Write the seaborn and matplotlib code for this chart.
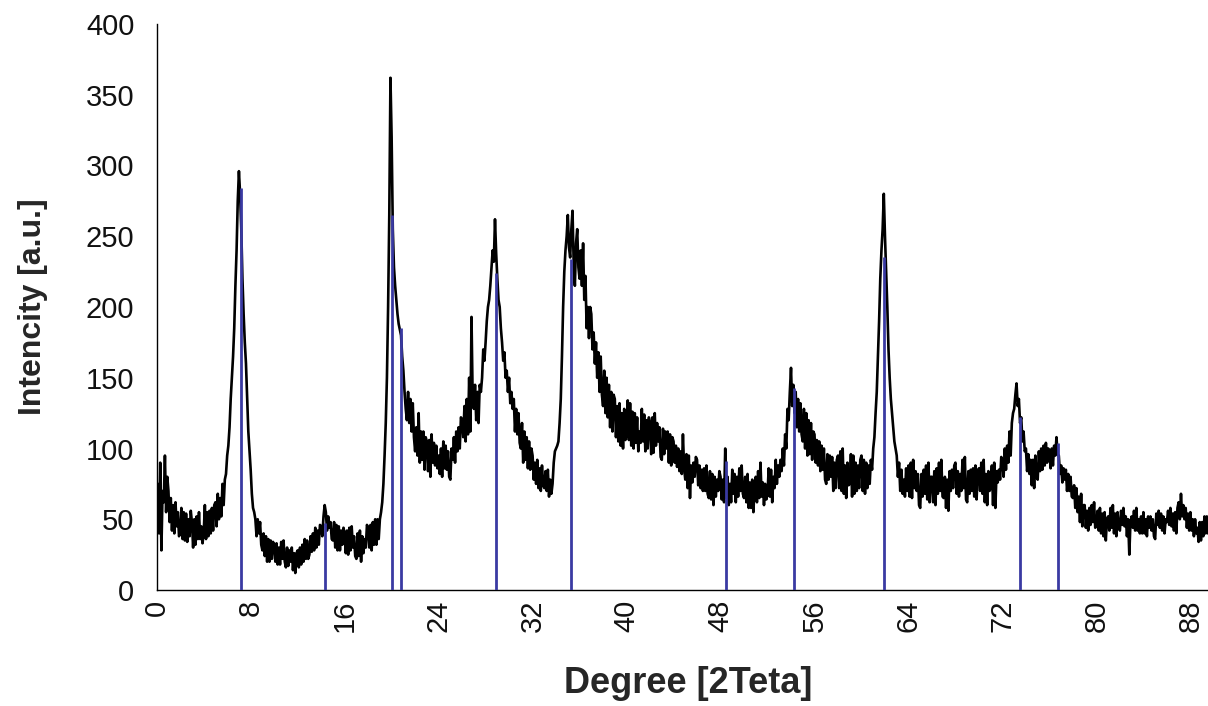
import numpy as np
import pandas as pd
import matplotlib
matplotlib.use("Agg")
import matplotlib.pyplot as plt
import seaborn as sns

# ---------------- data ----------------
two_theta_start = 0.0
two_theta_step = 0.1

intensity = [
    60, 75, 40, 90, 28, 70, 62, 95, 55, 80,        # 0
    70, 48, 65, 42, 60, 40, 62, 45, 55, 38,        # 1
    40, 58, 36, 55, 35, 54, 34, 50, 38, 56,        # 2
    48, 30, 50, 32, 52, 36, 55, 36, 45, 33,        # 3
    40, 60, 36, 55, 38, 56, 40, 58, 42, 60,        # 4
    62, 45, 68, 50, 65, 52, 75, 60, 78, 82,        # 5
    95, 102, 115, 135, 150, 165, 185, 215, 240, 275,   # 6
    296, 280, 255, 220, 195, 175, 160, 135, 112, 98,   # 7
    85, 68, 58, 55, 50, 38, 50, 40, 48, 32,        # 8
    28, 40, 24, 38, 20, 36, 20, 35, 22, 34,        # 9
    32, 20, 33, 18, 30, 18, 34, 22, 35, 20,        # 10
    16, 30, 17, 28, 20, 30, 14, 26, 12, 26,        # 11
    28, 16, 30, 18, 32, 20, 36, 22, 35, 22,        # 12
    25, 38, 27, 40, 28, 44, 30, 42, 32, 46,        # 13
    45, 38, 52, 60, 55, 42, 52, 44, 48, 36,        # 14
    35, 48, 30, 46, 28, 45, 28, 42, 32, 44,        # 15
    40, 26, 42, 25, 44, 28, 45, 30, 38, 24,        # 16
    22, 40, 24, 42, 20, 38, 26, 36, 30, 46,        # 17
    44, 30, 46, 28, 48, 32, 50, 32, 50, 36,        # 18
    50, 55, 62, 75, 95, 118, 150, 200, 265, 362,   # 19
    320, 255, 228, 215, 205, 195, 188, 184, 180, 165,  # 20
    155, 140, 128, 120, 140, 118, 135, 112, 132, 108,  # 21
    98, 115, 95, 125, 90, 112, 92, 112, 85, 108,   # 22
    105, 84, 106, 80, 110, 90, 104, 88, 102, 86,   # 23
    95, 82, 100, 80, 105, 86, 102, 85, 98, 80,     # 24
    78, 100, 92, 108, 90, 112, 98, 115, 100, 122,  # 25
    120, 108, 130, 105, 135, 110, 150, 112, 193, 135,  # 26
    128, 145, 120, 140, 118, 145, 140, 150, 170, 162,  # 27
    175, 190, 200, 205, 215, 228, 240, 232, 262, 238,  # 28
    220, 205, 200, 185, 175, 162, 168, 150, 155, 140,  # 29
    150, 132, 140, 128, 135, 112, 128, 110, 125, 104,  # 30
    100, 118, 90, 112, 92, 108, 86, 105, 85, 100,  # 31
    95, 78, 90, 75, 92, 72, 86, 70, 88, 74,        # 32
    72, 84, 70, 85, 66, 78, 68, 75, 90, 98,        # 33
    100, 102, 105, 118, 135, 165, 200, 225, 240, 250,  # 34
    265, 242, 235, 255, 268, 230, 215, 245, 255, 228,  # 35
    220, 240, 215, 245, 205, 222, 185, 200, 178, 200,  # 36
    195, 170, 182, 160, 175, 150, 168, 140, 165, 138,  # 37
    130, 155, 125, 150, 122, 145, 115, 140, 112, 138,  # 38
    135, 108, 130, 105, 132, 102, 125, 100, 128, 106,  # 39
    110, 134, 106, 132, 102, 126, 100, 125, 104, 122,  # 40
    98, 112, 104, 128, 105, 124, 98, 120, 100, 122,    # 41
    118, 96, 122, 97, 125, 102, 118, 105, 115, 94,     # 42
    92, 114, 96, 112, 100, 112, 90, 110, 88, 108,      # 43
    105, 90, 102, 87, 100, 84, 98, 82, 110, 86,    # 44
    78, 96, 72, 95, 65, 88, 76, 90, 80, 94,        # 45
    92, 74, 88, 72, 85, 70, 86, 70, 88, 68,        # 46
    65, 84, 64, 82, 60, 80, 66, 78, 70, 84,        # 47
    80, 64, 78, 62, 100, 65, 80, 60, 75, 62,       # 48
    85, 68, 82, 62, 80, 66, 86, 70, 88, 68,        # 49
    65, 80, 62, 82, 58, 76, 58, 78, 55, 74,        # 50
    80, 62, 84, 65, 90, 66, 76, 60, 75, 64,        # 51
    68, 86, 66, 85, 62, 80, 72, 92, 75, 88,        # 52
    80, 92, 84, 100, 88, 110, 100, 128, 120, 140,  # 53
    157, 130, 145, 125, 140, 115, 135, 112, 132, 110,  # 54
    105, 128, 100, 125, 95, 120, 96, 118, 92, 112,     # 55
    110, 90, 106, 88, 105, 84, 102, 85, 100, 78,   # 56
    75, 96, 78, 95, 80, 94, 70, 90, 72, 92,        # 57
    95, 72, 98, 70, 100, 68, 88, 65, 90, 74,       # 58
    75, 96, 66, 95, 68, 90, 70, 88, 72, 92,        # 59
    95, 70, 92, 68, 90, 72, 88, 75, 92, 85,        # 60
    100, 108, 125, 140, 165, 190, 220, 240, 255, 280,  # 61
    250, 225, 200, 170, 150, 135, 125, 115, 105, 100,  # 62
    95, 80, 90, 70, 85, 68, 78, 66, 86, 70,        # 63
    88, 66, 90, 65, 92, 72, 84, 70, 82, 60,        # 64
    58, 82, 66, 85, 68, 88, 64, 90, 62, 80,        # 65
    80, 62, 84, 60, 86, 68, 90, 70, 92, 66,        # 66
    65, 80, 58, 78, 56, 84, 70, 85, 72, 88,        # 67
    90, 68, 84, 66, 82, 70, 92, 72, 94, 64,        # 68
    62, 84, 68, 85, 70, 86, 66, 88, 64, 84,        # 69
    86, 70, 90, 68, 92, 62, 82, 60, 84, 70,        # 70
    72, 88, 60, 90, 58, 84, 76, 85, 78, 94,        # 71
    92, 80, 100, 85, 102, 90, 112, 95, 118, 125,   # 72
    128, 138, 146, 130, 135, 118, 122, 105, 112, 98,   # 73
    100, 84, 96, 82, 92, 74, 92, 72, 95, 80,       # 74
    78, 98, 84, 100, 85, 102, 88, 104, 90, 100,    # 75
    98, 86, 100, 88, 102, 95, 108, 96, 95, 82,     # 76
    88, 76, 86, 78, 85, 70, 82, 70, 80, 66,        # 77
    65, 74, 58, 72, 55, 66, 48, 68, 45, 60,        # 78
    60, 44, 56, 42, 58, 46, 60, 48, 62, 44,        # 79
    45, 56, 42, 58, 40, 54, 38, 55, 35, 50,        # 80
    52, 42, 58, 44, 60, 40, 54, 38, 55, 44,        # 81
    42, 56, 46, 58, 45, 52, 38, 50, 25, 48,        # 82
    52, 44, 56, 42, 58, 42, 50, 40, 52, 40,        # 83
    55, 40, 50, 38, 52, 44, 52, 42, 50, 38,        # 84
    36, 54, 46, 56, 44, 54, 42, 52, 40, 50,        # 85
    48, 56, 46, 58, 45, 54, 42, 55, 40, 58,        # 86
    62, 50, 68, 52, 60, 50, 58, 44, 54, 42,        # 87
    55, 42, 50, 38, 50, 40, 44, 34, 48, 35,        # 88
    48, 38, 52, 40, 52, 40, 45, 36, 46, 38,        # 89
]

ref_positions = [7.15, 14.32, 20.03, 20.76, 28.91, 35.31, 48.49, 54.25, 61.93, 73.53, 76.69]
ref_heights = [284, 47, 265, 185, 224, 234, 91, 143, 235, 122, 104]

x_ticks = [0, 8, 16, 24, 32, 40, 48, 56, 64, 72, 80, 88]
y_ticks = [0, 50, 100, 150, 200, 250, 300, 350, 400]
x_label = "Degree [2Teta]"
y_label = "Intencity [a.u.]"

# ---------------- figure ----------------
sns.set_style("white")
plt.rcParams["font.family"] = ["Liberation Sans", "DejaVu Sans"]

two_theta = np.round(two_theta_start + two_theta_step * np.arange(len(intensity)), 2)
df = pd.DataFrame({"two_theta": two_theta, "intensity": intensity})

W, H = 1208, 706
fig = plt.figure(figsize=(W / 100, H / 100), dpi=100)
left_px, right_px, top_px, bottom_px = 156.7, 1208, 24, 590
ax = fig.add_axes([left_px / W, (H - bottom_px) / H,
                   (right_px - left_px) / W, (bottom_px - top_px) / H])

sns.lineplot(data=df, x="two_theta", y="intensity", color="black",
             linewidth=1.9, sort=False, estimator=None, ax=ax, zorder=2)
ax.vlines(ref_positions, 0, ref_heights, color="#3A3AA2", linewidth=2.0, zorder=3)

ax.set_xlim(0, 89.5)
ax.set_ylim(0, 400)
ax.set_xticks(x_ticks)
ax.set_yticks(y_ticks)
ax.set_xticklabels([str(t) for t in x_ticks], rotation=90)

for s in ["top", "right"]:
    ax.spines[s].set_visible(False)
for s in ["left", "bottom"]:
    ax.spines[s].set_color("black")
    ax.spines[s].set_linewidth(1.0)

ax.tick_params(axis="both", direction="in", length=6.5, width=1.0,
               color="#555555", labelcolor="#111111", labelsize=21)
ax.tick_params(axis="x", pad=7)
ax.tick_params(axis="y", pad=16)

ax.set_xlabel(x_label, fontsize=26, fontweight="bold")
ax.set_ylabel(y_label, fontsize=23, fontweight="bold")
ax.xaxis.set_label_coords((688 - left_px) / (right_px - left_px),
                          -(666 - bottom_px) / (bottom_px - top_px))
ax.yaxis.set_label_coords(-(left_px - 48) / (right_px - left_px), 0.5)
ax.grid(False)

fig.savefig("out.png", dpi=100)
